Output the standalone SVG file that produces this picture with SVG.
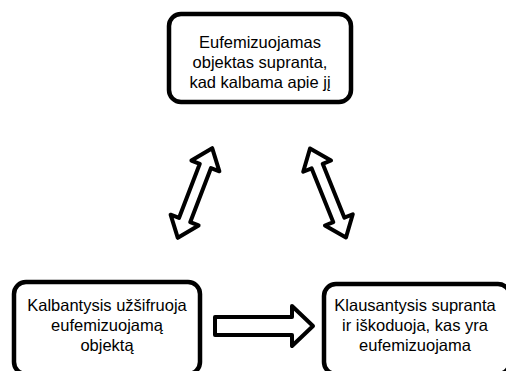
<svg xmlns="http://www.w3.org/2000/svg" width="506" height="371" viewBox="0 0 506 371">
<style>
.box{fill:#fff;stroke:#000;stroke-width:4.5}
.arr{fill:#fff;stroke:#000;stroke-width:4;stroke-linejoin:round}
text{font-family:"Liberation Sans",Arial,sans-serif;font-size:16.5px;fill:#000;text-anchor:middle}
</style>
<defs>
<path id="dbl" d="M-48,0 L-29,-15 L-29,-6 L29,-6 L29,-15 L48,0 L29,15 L29,6 L-29,6 L-29,15 Z"/>
</defs>
<rect width="506" height="371" fill="#fff"/>
<g id="top">
<rect class="box" x="169" y="14" width="182" height="88" rx="12"/>
<text x="260" y="48">Eufemizuojamas</text>
<text x="260" y="68">objektas supranta,</text>
<text x="260" y="88">kad kalbama apie jį</text>
</g>
<g id="left">
<rect class="box" x="14" y="282" width="186" height="92" rx="12"/>
<text x="107" y="311">Kalbantysis užšifruoja</text>
<text x="107" y="331">eufemizuojamą</text>
<text x="107" y="351">objektą</text>
</g>
<g id="right">
<rect class="box" x="324" y="284" width="186" height="90" rx="12"/>
<text x="415" y="311">Klausantysis supranta</text>
<text x="415" y="331">ir iškoduoja, kas yra</text>
<text x="415" y="351">eufemizuojama</text>
</g>
<g id="connectors">
<use href="#dbl" class="arr" transform="translate(195,193) rotate(-69)"/>
<use href="#dbl" class="arr" transform="translate(328,193) rotate(68)"/>
<path class="arr" d="M215,317 L292,317 L292,306 L313,326 L292,346 L292,335 L215,335 Z"/>
</g>
</svg>
